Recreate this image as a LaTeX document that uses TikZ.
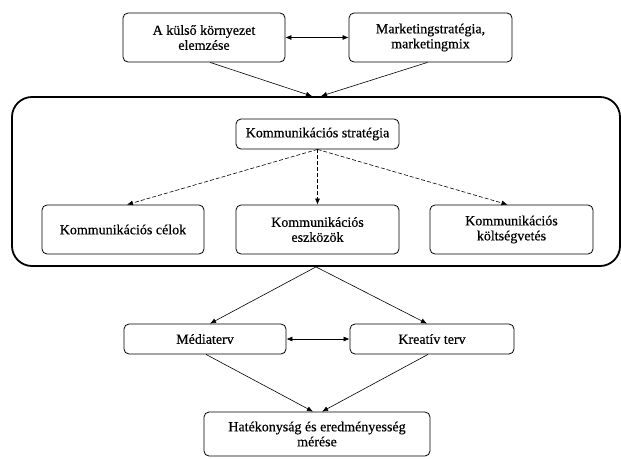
\documentclass[tikz,border=0pt]{standalone}
\usepackage{fontspec}
\setmainfont{Liberation Serif}
\newfontfamily\boxfont{Liberation Serif}[FakeBold=0.5]
\usetikzlibrary{arrows.meta, positioning}

\begin{document}
\begin{tikzpicture}[
    x=1pt, y=-1pt, % One unit is one pixel of the layout, y runs downwards
    >={Latex[length=6pt, width=5pt]}, % Default arrow tip
    box/.style={draw, thick, rounded corners=5pt, align=center,
        font=\boxfont\fontsize{14}{15}\selectfont, inner sep=2pt}, % Style for the boxes
    frame/.style={draw, line width=1.8pt, rounded corners=20pt}, % Style for the outer frame
    link/.style={->, semithick}, % Style for plain arrows
    dlink/.style={->, semithick, dash pattern=on 4pt off 2pt} % Style for dashed arrows
]
    \useasboundingbox (0, 0) rectangle (621, 458);

    % Top row
    \node[box, minimum width=162pt, minimum height=49pt] (kornyezet) at (204, 37.5) {A külső környezet\\elemzése};
    \node[box, minimum width=163pt, minimum height=49pt] (marketing) at (430.5, 37.5) {Marketingstratégia,\\marketingmix};

    % Outer frame around the communication block
    \node[frame, minimum width=608pt, minimum height=169pt] (keret) at (316, 181.5) {};

    % Communication block
    \node[box, minimum width=163pt, minimum height=30pt] (strategia) at (317.5, 134) {Kommunikációs stratégia};
    \node[box, minimum width=162pt, minimum height=49pt] (celok) at (123, 229.5) {Kommunikációs célok};
    \node[box, minimum width=163pt, minimum height=49pt] (eszkozok) at (317.5, 229.5) {Kommunikációs\\eszközök};
    \node[box, minimum width=163pt, minimum height=49pt] (koltseg) at (511.5, 229.5) {Kommunikációs\\költségvetés};

    % Plans
    \node[box, minimum width=162pt, minimum height=30pt] (media) at (205, 339) {Médiaterv};
    \node[box, minimum width=164pt, minimum height=30pt] (kreativ) at (432, 339) {Kreatív terv};

    % Measurement
    \node[box, minimum width=226pt, minimum height=44pt] (meres) at (317, 434) {Hatékonyság és eredményesség\\mérése};

    % Arrows between the top boxes and into the frame
    \draw[<->, semithick] (kornyezet) -- (marketing);
    \draw[link] ([xshift=6pt]kornyezet.south) -- ([xshift=-4pt]keret.north);
    \draw[link] ([xshift=-3pt]marketing.south) -- ([xshift=5pt]keret.north);

    % Dashed arrows inside the frame
    \draw[dlink] (strategia.south) -- ([xshift=4pt]celok.north);
    \draw[dlink] (strategia.south) -- (eszkozok.north);
    \draw[dlink] (strategia.south) -- ([xshift=-4pt]koltseg.north);

    % Arrows out of the frame
    \draw[link] (keret.south) -- ([xshift=5pt]media.north);
    \draw[link] (keret.south) -- ([xshift=-5pt]kreativ.north);
    \draw[<->, semithick] (media) -- (kreativ);

    % Arrows into the measurement box
    \draw[link] ([xshift=1pt]media.south) -- ([xshift=-4pt]meres.north);
    \draw[link] ([xshift=-4pt]kreativ.south) -- ([xshift=5pt]meres.north);

\end{tikzpicture}
\end{document}
